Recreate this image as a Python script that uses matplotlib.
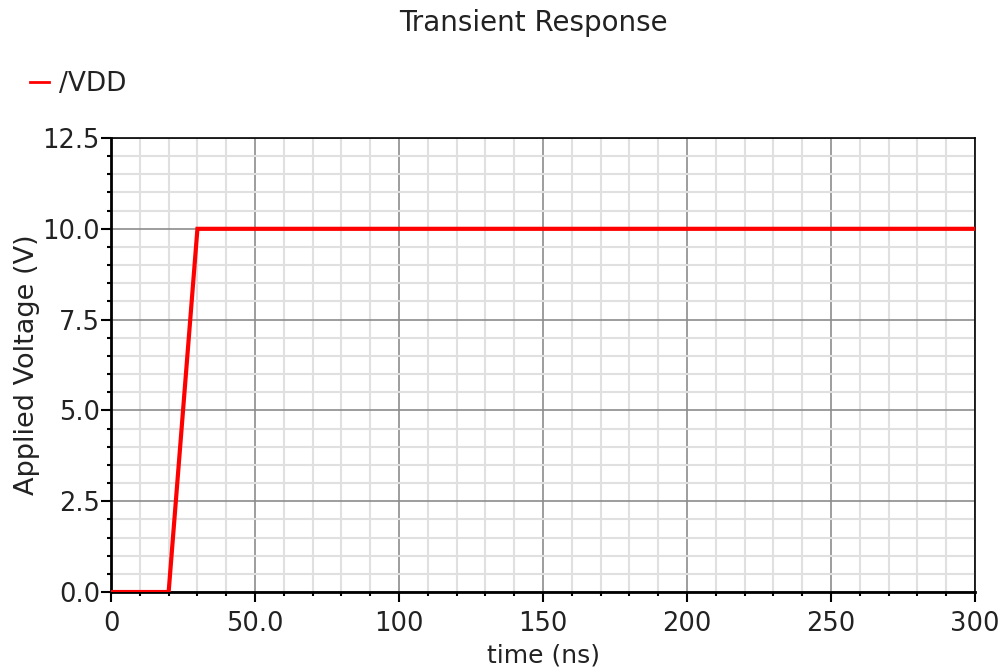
"""Transient response of the applied supply voltage /VDD."""

import matplotlib
matplotlib.use("Agg")
import matplotlib.pyplot as plt
from matplotlib.lines import Line2D
from matplotlib.ticker import MultipleLocator, FixedFormatter, FixedLocator

# piecewise-linear source: held at 0, ramps 20->30 ns, then flat
time_ns = [0, 20, 30, 300]
vdd = [0.0, 0.0, 10.0, 10.0]

x_ticks = [0, 50, 100, 150, 200, 250, 300]
x_labels = ["0", "50.0", "100", "150", "200", "250", "300"]
y_ticks = [0.0, 2.5, 5.0, 7.5, 10.0, 12.5]
y_labels = ["0.0", "2.5", "5.0", "7.5", "10.0", "12.5"]

TXT = "#222222"

fig = plt.figure(figsize=(10.04, 6.70), dpi=100)
ax = fig.add_axes([0.1106, 0.1164, 0.8605, 0.6776])

ax.plot(time_ns, vdd, color="red", lw=3, solid_joinstyle="miter", zorder=3)

ax.set_xlim(0, 300)
ax.set_ylim(0, 12.5)
ax.xaxis.set_major_locator(FixedLocator(x_ticks))
ax.xaxis.set_major_formatter(FixedFormatter(x_labels))
ax.yaxis.set_major_locator(FixedLocator(y_ticks))
ax.yaxis.set_major_formatter(FixedFormatter(y_labels))
ax.xaxis.set_minor_locator(MultipleLocator(10))
ax.yaxis.set_minor_locator(MultipleLocator(0.5))

ax.grid(True, which="major", color="#8c8c8c", lw=1.2)
ax.grid(True, which="minor", color="#e0e0e0", lw=1.5)
ax.set_axisbelow(True)

ax.tick_params(which="both", direction="out", colors="black", labelsize=18.5,
               labelcolor=TXT)
ax.tick_params(which="major", length=7, width=1.5)
ax.tick_params(which="minor", length=3, width=1.5)
ax.tick_params(axis="y", which="major", pad=1)
ax.tick_params(axis="x", which="major", pad=7)
for side in ("left", "bottom"):
    ax.spines[side].set_linewidth(2)
for side in ("top", "right"):
    ax.spines[side].set_linewidth(1.2)

ax.set_xlabel("time (ns)", fontsize=18, color=TXT, labelpad=4)
ax.set_ylabel("Applied Voltage (V)", fontsize=19.5, color=TXT, labelpad=2)

fig.text(0.531, 0.965, "Transient Response", ha="center", va="center",
         fontsize=20, color=TXT)

handle = Line2D([], [], color="red", lw=2)
fig.legend([handle], ["/VDD"], loc="center left", bbox_to_anchor=(0.03, 0.874),
           frameon=False, fontsize=19, handlelength=0.7, handletextpad=0.4,
           labelcolor=TXT, borderpad=0, borderaxespad=0)

fig.savefig("out.png", dpi=100)
